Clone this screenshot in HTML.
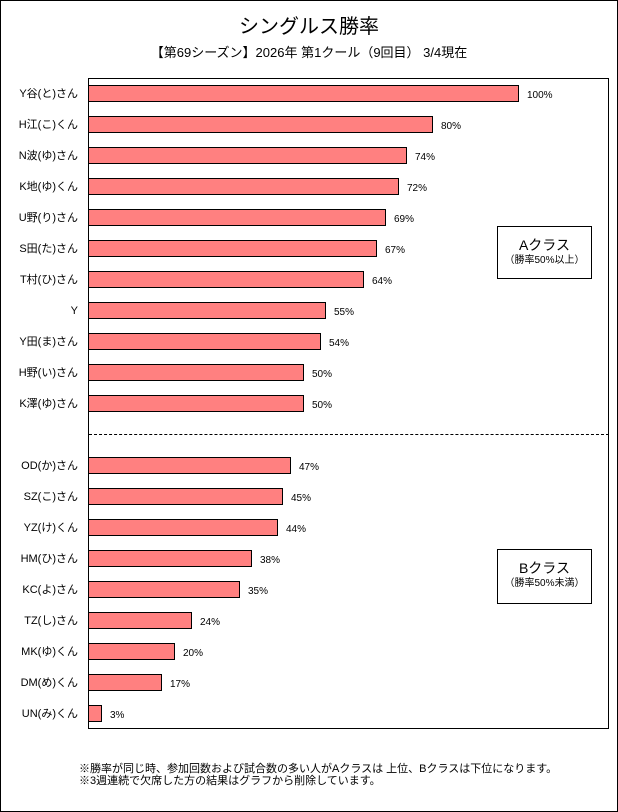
<!DOCTYPE html>
<html><head><meta charset="utf-8"><style>
*{margin:0;padding:0;box-sizing:border-box}
body{width:618px;height:812px;background:#fff;position:relative;overflow:hidden;font-family:"Liberation Sans","Noto Sans CJK JP",sans-serif;color:#000}
.outer{position:absolute;left:0;top:0;width:618px;height:812px;border:1px solid #000}
.t{position:absolute;left:0;width:618px;text-align:center;white-space:nowrap}
.plot{position:absolute;left:88px;top:78px;width:521px;height:651px;border:1px solid #000}
.bar{position:absolute;left:88px;height:17px;background:#ff8080;border:1px solid #000}
.lab{position:absolute;right:540px;font-size:11px;white-space:nowrap;line-height:13px}
.val{position:absolute;font-size:10px;line-height:13px;white-space:nowrap}
.leg{position:absolute;left:497px;width:95px;border:1px solid #000;background:#fff;text-align:center}
.fn{position:absolute;left:79px;font-size:11px;line-height:12px;white-space:nowrap}
</style></head><body>
<div class="outer"></div>
<div class="t" style="top:14px;font-size:20px;line-height:26px">シングルス勝率</div>
<div class="t" style="top:44px;font-size:13px;line-height:18px">【第69シーズン】2026年 第1クール（9回目） 3/4現在</div>
<div class="plot"></div>
<div style="position:absolute;left:89px;top:434px;width:520px;border-top:1px dashed #000"></div>
<div id="c"></div>
<div class="leg" style="top:226px;height:53px"><div style="font-size:14px;margin-top:9px;line-height:18px">Aクラス</div><div style="font-size:10px;line-height:14px">（勝率50%以上）</div></div>
<div class="leg" style="top:549px;height:55px"><div style="font-size:14px;margin-top:9px;line-height:18px">Bクラス</div><div style="font-size:10px;line-height:14px">（勝率50%未満）</div></div>
<div class="fn" style="top:763px">※勝率が同じ時、参加回数および試合数の多い人がAクラスは 上位、Bクラスは下位になります。</div>
<div class="fn" style="top:775px">※3週連続で欠席した方の結果はグラフから削除しています。</div>
<script>
var d=[["Y谷(と)さん",100],["H江(こ)くん",80],["N波(ゆ)さん",74],["K地(ゆ)くん",72],["U野(り)さん",69],["S田(た)さん",67],["T村(ひ)さん",64],["Y",55],["Y田(ま)さん",54],["H野(い)さん",50],["K澤(ゆ)さん",50],null,["OD(か)さん",47],["SZ(こ)さん",45],["YZ(け)くん",44],["HM(ひ)さん",38],["KC(よ)さん",35],["TZ(し)さん",24],["MK(ゆ)くん",20],["DM(め)くん",17],["UN(み)くん",3]];
var h="";d.forEach(function(r,i){if(!r)return;var cy=93+31*i;var w=Math.round(r[1]*4.3);
h+='<div class="lab" style="top:'+(cy-5)+'px">'+r[0]+'</div><div class="bar" style="top:'+(cy-8)+'px;width:'+(w+1)+'px"></div><div class="val" style="left:'+(88+w+9)+'px;top:'+(cy-4)+'px">'+r[1]+'%</div>';});
document.getElementById("c").innerHTML=h;
</script>
</body></html>
